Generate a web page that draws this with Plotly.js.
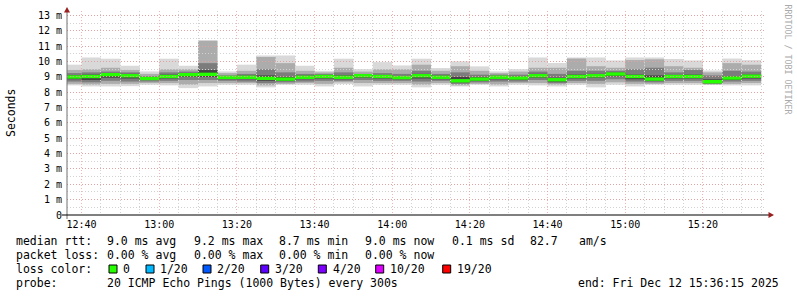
<!DOCTYPE html>
<html><head><meta charset="utf-8">
<script src="https://cdn.plot.ly/plotly-3.0.1.min.js"></script>
<style>html,body{margin:0;padding:0;background:#fff;}#chart{width:797px;height:297px;}</style>
</head><body><div id="chart"></div>
<script>
// 5-minute step starts (each bar covers start .. start+300s)
const slotStarts = ["12:35","12:40","12:45","12:50","12:55","13:00","13:05","13:10","13:15","13:20","13:25","13:30",
  "13:35","13:40","13:45","13:50","13:55","14:00","14:05","14:10","14:15","14:20","14:25","14:30",
  "14:35","14:40","14:45","14:50","14:55","15:00","15:05","15:10","15:15","15:20","15:25","15:30"];
// values in ms
const pingMax  = [9.80,10.27,10.19,9.73,9.36,10.19,9.73,11.41,9.36,9.80,10.40,10.40,9.73,9.40,10.19,9.51,9.97,9.75,10.19,9.58,10.02,9.69,9.36,9.51,10.27,9.91,10.27,10.27,10.08,10.27,10.27,10.17,10.08,9.42,10.20,10.10];
const smokeHi2 = [9.45,9.5,9.6,9.45,9.2,9.5,9.5,11.35,9.25,9.4,10.3,9.9,9.4,9.3,9.6,9.35,9.5,9.5,9.8,9.4,9.7,9.4,9.25,9.35,9.6,9.6,10.2,9.7,9.6,10.1,10.15,9.7,9.6,9.3,9.9,9.8];
const smokeHi3 = [9.25,9.3,9.35,9.3,9.05,9.3,9.35,9.9,9.1,9.2,9.5,9.3,9.2,9.2,9.3,9.2,9.25,9.2,9.4,9.2,9.3,9.15,9.15,9.15,9.35,9.2,9.4,9.4,9.4,9.5,9.6,9.3,9.45,9.1,9.4,9.35];
const smokeHi4 = [9.1,9.15,9.25,9.2,8.98,9.15,9.25,9.45,9.03,9.08,9.1,9.0,9.08,9.1,9.1,9.15,9.12,9.05,9.2,9.08,9.0,8.98,9.05,9.02,9.2,8.95,9.15,9.2,9.28,9.15,9.1,9.13,9.15,8.85,9.05,9.15];
const medianRtt= [9.00,9.03,9.15,9.08,8.90,9.03,9.15,9.17,8.97,8.98,8.91,8.86,8.98,9.03,8.98,9.08,9.03,8.96,9.08,8.98,8.75,8.86,8.98,8.93,9.08,8.82,9.03,9.08,9.19,9.03,8.86,9.03,9.03,8.69,8.93,9.05];
const smokeLo4 = [8.85,8.8,8.95,8.9,8.8,8.9,9.0,9.0,8.85,8.85,8.75,8.75,8.85,8.9,8.85,8.95,8.9,8.85,8.9,8.85,8.65,8.75,8.85,8.8,8.95,8.7,8.9,8.95,9.05,8.85,8.75,8.9,8.9,8.6,8.8,8.9];
const smokeLo3 = [8.7,8.65,8.75,8.7,8.7,8.75,8.8,8.8,8.75,8.7,8.6,8.65,8.7,8.75,8.75,8.8,8.75,8.75,8.7,8.75,8.55,8.65,8.7,8.7,8.8,8.6,8.75,8.75,8.85,8.7,8.65,8.75,8.75,8.55,8.7,8.75];
const smokeLo2 = [8.55,8.5,8.55,8.55,8.6,8.6,8.5,8.6,8.6,8.6,8.45,8.55,8.6,8.55,8.65,8.6,8.6,8.6,8.5,8.6,8.45,8.55,8.5,8.6,8.6,8.5,8.6,8.55,8.65,8.55,8.55,8.6,8.6,8.5,8.55,8.6];
const pingMin  = [8.45,8.38,8.38,8.40,8.49,8.45,8.27,8.38,8.49,8.49,8.32,8.49,8.49,8.38,8.53,8.38,8.49,8.49,8.32,8.49,8.38,8.49,8.38,8.49,8.45,8.38,8.49,8.32,8.49,8.38,8.49,8.49,8.49,8.49,8.45,8.45];

const yTickVals = [0,1,2,3,4,5,6,7,8,9,10,11,12,13];
const yTickText = ["0","1 m","2 m","3 m","4 m","5 m","6 m","7 m","8 m","9 m","10 m","11 m","12 m","13 m"];

const lossLabels = ["0","1/20","2/20","3/20","4/20","10/20","19/20"];
const lossColors = ["#26ff00","#00b8ff","#0059ff","#5e00ff","#7e00ff","#dd00ff","#ff0000"];

const statLine1 = ["median rtt:","9.0 ms avg","9.2 ms max","8.7 ms min","9.0 ms now","0.1 ms sd","82.7","am/s"];
const statLine2 = ["packet loss:","0.00 % avg","0.00 % max","0.00 % min","0.00 % now"];
const probeText = ["probe:","20 ICMP Echo Pings (1000 Bytes) every 300s","end: Fri Dec 12 15:36:15 2025"];

const DAY = "2025-12-12 ";
const xs = slotStarts.map(t => DAY + t + ":00");
const STEP = 300000;

function band(lo, hi, color){
  return {type:'bar', x: xs, base: lo, y: hi.map((h,i)=>h-lo[i]), width: STEP, offset: 0,
    marker:{color:color, line:{width:0}}, hoverinfo:'skip', xaxis:'x', yaxis:'y'};
}
const traces = [
  band(pingMin, pingMax, '#d9d9d9'),
  band(smokeLo2, smokeHi2, '#acacac'),
  band(smokeLo3, smokeHi3, '#7c7c7c'),
  band(smokeLo4, smokeHi4, '#444444'),
  band(medianRtt.map(v=>v-0.11), medianRtt.map(v=>v+0.11), lossColors[0])
];

// pixel -> paper helpers (plot area 67..766 x, 11..215 y)
const L=67, T=11, W=699, H=204;
const px = x => (x-L)/W;
const py = y => (T+H-y)/H;
const mono = 'DejaVu Sans Mono, monospace';

const ann = [];
function txt(t, x, y, opts){
  ann.push(Object.assign({text:t, xref:'paper', yref:'paper', x:px(x), y:py(y), xanchor:'left', yanchor:'middle',
    showarrow:false, borderpad:0, borderwidth:0, font:{family:mono, size:11.5, color:'#000'}}, opts||{}));
}
const l1x = [16,107.3,194,279.3,365,451.7,530,579.3];
statLine1.forEach((s,i)=>txt(s, l1x[i], 241));
const l2x = [16,107.3,194,279.3,365];
statLine2.forEach((s,i)=>txt(s, l2x[i], 255.3));
txt("loss color:", 16, 269.3);
const sqx = [109,146,203,260.7,318.3,375.7,442.7];
const shapes = [];
lossLabels.forEach((s,i)=>{
  txt(s, sqx[i]+14.3, 269.3);
  shapes.push({type:'rect', xref:'paper', yref:'paper', x0:px(sqx[i]), x1:px(sqx[i]+8), y0:py(265), y1:py(273),
    fillcolor:lossColors[i], line:{color:'#000', width:1}});
});
txt(probeText[0], 16, 283.3);
txt(probeText[1], 107.3, 283.3);
txt(probeText[2], 578.3, 283.3);
// y title
ann.push({text:'Seconds', xref:'paper', yref:'paper', x:px(10.5), y:py(113.5), xanchor:'center', yanchor:'middle',
  textangle:-90, showarrow:false, borderpad:0, font:{family:mono, size:11.5, color:'#000'}});
// watermark
ann.push({text:'RRDTOOL / TOBI OETIKER', xref:'paper', yref:'paper', x:px(787.5), y:py(60), xanchor:'center', yanchor:'middle',
  textangle:90, showarrow:false, borderpad:0, font:{family:mono, size:8.3, color:'#aaaaaa'}});

// axis lines and arrows
shapes.push({type:'line', xref:'paper', yref:'paper', x0:px(67), x1:px(67), y0:py(219), y1:py(12), line:{color:'#707070', width:1}, layer:'above'});
shapes.push({type:'line', xref:'paper', yref:'paper', x0:px(62), x1:px(769), y0:py(215), y1:py(215), line:{color:'#000', width:1}, layer:'above'});
shapes.push({type:'path', xref:'paper', yref:'paper', layer:'above',
  path:`M ${px(67)},${py(7)} L ${px(64)},${py(12.5)} L ${px(70)},${py(12.5)} Z`, fillcolor:'#9a1f1f', line:{width:0}});
shapes.push({type:'path', xref:'paper', yref:'paper', layer:'above',
  path:`M ${px(774)},${py(215)} L ${px(768.5)},${py(212)} L ${px(768.5)},${py(218)} Z`, fillcolor:'#9a1f1f', line:{width:0}});

const xRange = [DAY+"12:36:15", DAY+"15:36:15"];
const yRange = [0, 13.3];
const majorGrid = 'rgba(235,130,130,0.6)';
const minorGrid = '#d2d2d2';
const dotted = '1px,2px';

const layout = {
  width:797, height:297, margin:{l:L, r:797-L-W, t:T, b:297-T-H, pad:0},
  paper_bgcolor:'#fff', plot_bgcolor:'rgba(0,0,0,0)', showlegend:false, barmode:'overlay',
  xaxis:{type:'date', range:xRange, showgrid:false, showticklabels:false, zeroline:false, showline:false, fixedrange:true},
  yaxis:{range:yRange, showgrid:false, showticklabels:false, zeroline:false, showline:false, fixedrange:true},
  xaxis2:{type:'date', anchor:'y2', domain:[0,1], range:xRange, tick0:DAY+"12:40:00", dtick:1200000, tickformat:'%H:%M',
    showgrid:true, gridcolor:majorGrid, griddash:dotted, gridwidth:1, ticks:'', zeroline:false, showline:false,
    tickfont:{family:mono, size:10, color:'#000'}, ticklabelstandoff:2,
    minor:{dtick:STEP, tick0:DAY+"12:40:00", showgrid:true, gridcolor:minorGrid, griddash:dotted, gridwidth:1, ticks:''}},
  yaxis2:{anchor:'x2', domain:[0,1], range:yRange, tickmode:'array', tickvals:yTickVals, ticktext:yTickText,
    showgrid:true, gridcolor:majorGrid, griddash:dotted, gridwidth:1, ticks:'', zeroline:false, showline:false,
    tickfont:{family:mono, size:10, color:'#000'}, ticklabelstandoff:4,
    minor:{tickmode:'linear', tick0:0, dtick:0.5, showgrid:true, gridcolor:minorGrid, griddash:dotted, gridwidth:1, ticks:''}},
  annotations: ann, shapes: shapes
};
// invisible helper trace so the grid subplot exists above the data subplot
traces.push({type:'scatter', x:[xRange[0]], y:[0], mode:'none', xaxis:'x2', yaxis:'y2', hoverinfo:'skip'});
Plotly.newPlot('chart', traces, layout, {staticPlot:true, displayModeBar:false});
</script></body></html>
